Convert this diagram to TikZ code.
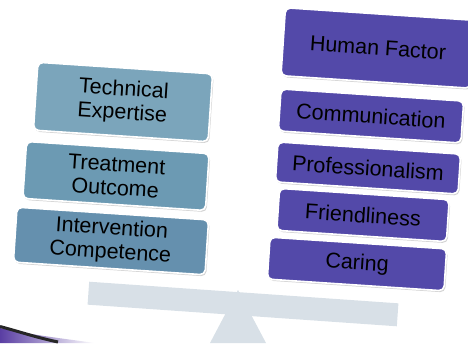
\documentclass[tikz,border=0pt]{standalone}
\usepackage{fontspec}
\setmainfont{Liberation Sans}
\usetikzlibrary{shadows}
\definecolor{tealA}{HTML}{7BA5BB}
\definecolor{tealB}{HTML}{6C9AB3}
\definecolor{tealC}{HTML}{6590AE}
\definecolor{purp}{HTML}{5349A9}
\definecolor{beam}{HTML}{D8E0E7}
\begin{document}
\begin{tikzpicture}[x=1pt,y=1pt,
  box/.style={rounded corners=5pt, draw=white, line width=1.6pt, align=center,
    font=\fontsize{21.5}{23.5}\selectfont, inner sep=2pt, text=black, rotate=-3.8,
    drop shadow={opacity=0.35, shadow xshift=1.2pt, shadow yshift=-1.6pt}},
  lbox/.style={box}, rbox/.style={box, fill=purp}]
\useasboundingbox (0,0) rectangle (468,343);
% bottom-left swoosh
\shade[left color=purp!85!violet, right color=white] (0,15) to[out=-12,in=172] (95,0) -- (0,0) -- cycle;
\draw[line width=3pt, black!85] (0,16.5) to[out=-15,in=168] (58,1);
% seesaw
\fill[beam] (238,53) -- (210,0) -- (266,0) -- cycle;
\fill[beam, rotate around={-4:(243,39)}] (88,27.5) rectangle (398,50.5);
% boxes
\node[lbox, fill=tealA, minimum width=175pt, minimum height=68pt] (te) at (123,241) {Technical\\Expertise};
\node[lbox, fill=tealB, minimum width=183pt, minimum height=57pt] (to) at (116,167) {Treatment\\Outcome};
\node[lbox, fill=tealC, minimum width=192pt, minimum height=55pt] (ic) at (111,102) {Intervention\\Competence};
\node[rbox, minimum width=190pt, minimum height=68pt] (hf) at (378,295) {Human Factor};
\node[rbox, minimum width=183pt, minimum height=42pt] (co) at (371,227) {Communication};
\node[rbox, minimum width=183pt, minimum height=40pt] (pr) at (368,175) {Professionalism};
\node[rbox, minimum width=170pt, minimum height=42pt] (fr) at (363,128) {Friendliness};
\node[rbox, minimum width=177pt, minimum height=42pt] (ca) at (357,79) {Caring};
\end{tikzpicture}
\end{document}
